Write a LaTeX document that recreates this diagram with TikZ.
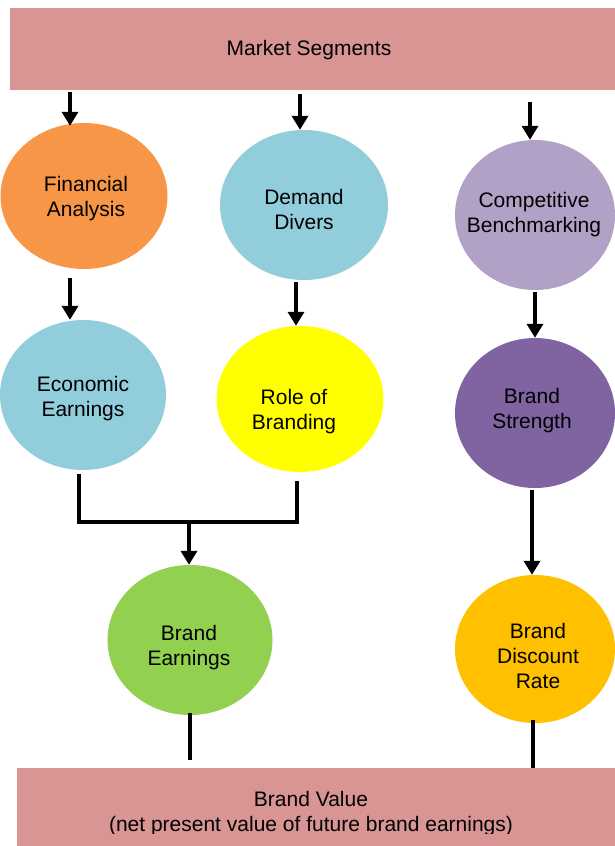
\documentclass[tikz,border=0pt]{standalone}
\usepackage{fontspec}
\setmainfont{Liberation Sans}
\usetikzlibrary{shapes.geometric,arrows.meta}
\definecolor{banner}{HTML}{D99594}
\definecolor{corange}{HTML}{F79646}
\definecolor{cblue}{HTML}{92CDDC}
\definecolor{clav}{HTML}{B2A1C7}
\definecolor{cyel}{HTML}{FFFF00}
\definecolor{cpurp}{HTML}{8064A2}
\definecolor{cgreen}{HTML}{92D050}
\definecolor{cgold}{HTML}{FFC000}
\begin{document}
\begin{tikzpicture}[x=1pt,y=-1pt,
 txt/.style={font=\fontsize{21}{25}\selectfont, align=center, text=black},
 bubble/.style={ellipse, inner sep=0pt, draw=none},
 bannerbox/.style={rectangle, fill=banner, inner sep=0pt, draw=none},
 arr/.style={line width=4.5pt, -{Triangle[width=16pt,length=14pt]}},
 conn/.style={line width=4.5pt},
]
\useasboundingbox (0,0) rectangle (615,846);
\fill[white] (0,0) rectangle (615,846);

% banners
\node[bannerbox, minimum width=605pt, minimum height=82pt] (ms) at (312.5,49) {};
\node[txt] (mst) at (309,50) {Market Segments};
\node[bannerbox, minimum width=598pt, minimum height=78pt] (bv) at (316,807) {};
\begin{scope}
\clip (0,0) rectangle (615,833);
\node[txt, anchor=base] (bvt1) at (311,806) {Brand Value};
\node[txt, anchor=base] (bvt2) at (311,831) {(net present value of future brand earnings)};
\end{scope}

% bubbles
\node[bubble, fill=corange, minimum width=167pt, minimum height=146pt] (fa) at (84,196) {};
\node[txt] (fat) at (86,199) {Financial\\Analysis};
\node[bubble, fill=cblue, minimum width=168pt, minimum height=150pt] (dd) at (304,205) {};
\node[txt] (ddt) at (304,209) {Demand\\Divers};
\node[bubble, fill=clav, minimum width=160pt, minimum height=150pt] (cb) at (535,215) {};
\node[txt] (cbt) at (534,215) {Competitive\\Benchmarking};
\node[bubble, fill=cblue, minimum width=166pt, minimum height=150pt] (ee) at (83,395) {};
\node[txt] (eet) at (83,399) {Economic\\Earnings};
\node[bubble, fill=cyel, minimum width=167pt, minimum height=146pt] (rb) at (300,399) {};
\node[txt] (rbt) at (294,412) {Role of\\Branding};
\node[bubble, fill=cpurp, minimum width=160pt, minimum height=150pt] (bs) at (535,413) {};
\node[txt] (bst) at (532,411) {Brand\\Strength};
\node[bubble, fill=cgreen, minimum width=165pt, minimum height=150pt] (be) at (190,640) {};
\node[txt] (bet) at (189,648) {Brand\\Earnings};
\node[bubble, fill=cgold, minimum width=160pt, minimum height=148pt] (bd) at (535,649) {};
\node[txt] (bdt) at (538,656) {Brand\\Discount\\Rate};

% arrows
\draw[arr, shorten <=2pt] ([xshift=-242.5pt]ms.south) -- ([xshift=-14pt,yshift=-3pt]fa.north);
\draw[arr, shorten <=4pt] ([xshift=-12.5pt]ms.south) -- ([xshift=-4pt]dd.north);
\draw[arr, shorten <=12pt] ([xshift=217.5pt]ms.south) -- ([xshift=-5pt]cb.north);
\draw[arr, shorten <=9pt] ([xshift=-14pt]fa.south) -- ([xshift=-13pt]ee.north);
\draw[arr, shorten <=2pt] ([xshift=-8pt]dd.south) -- ([xshift=-4pt]rb.north);
\draw[arr, shorten <=2pt] (cb.south) -- (bs.north);
\draw[arr, shorten <=2pt] ([xshift=-3pt]bs.south) -- ([xshift=-3pt]bd.north);

\coordinate (jn) at (189,522);
\draw[conn] ([xshift=-4pt,yshift=-4pt]ee.south) |- (jn) -| ([xshift=-3pt,yshift=-9pt]rb.south);
\draw[arr] (jn) -- ([xshift=-1pt]be.north);

\draw[conn] ([yshift=2pt]be.south) -- ([xshift=-126pt,yshift=8pt]bv.north);
\draw[conn] ([xshift=-2pt,yshift=3pt]bd.south) -- ([xshift=217pt]bv.north);
\end{tikzpicture}
\end{document}
